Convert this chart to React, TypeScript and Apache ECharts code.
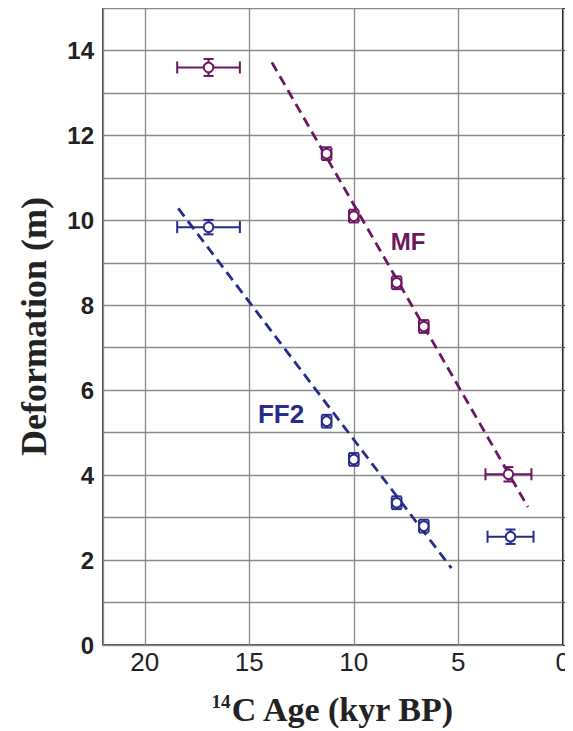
import React, { useEffect, useRef } from "react";
import * as echarts from "echarts";

// [age (kyr BP), deformation (m), age error, deformation error]
const mfPoints = [
  [16.95, 13.6, 1.5, 0.2],
  [11.3, 11.57, 0.23, 0.15],
  [10.0, 10.1, 0.23, 0.15],
  [7.95, 8.53, 0.23, 0.15],
  [6.65, 7.5, 0.23, 0.15],
  [2.6, 4.02, 1.1, 0.17],
];
const ff2Points = [
  [16.95, 9.84, 1.5, 0.17],
  [11.3, 5.27, 0.23, 0.15],
  [10.0, 4.37, 0.23, 0.15],
  [7.95, 3.35, 0.23, 0.15],
  [6.65, 2.8, 0.23, 0.15],
  [2.5, 2.55, 1.1, 0.17],
];
const mfTrend = [
  [13.92, 13.72],
  [1.67, 3.25],
];
const ff2Trend = [
  [18.4, 10.28],
  [5.33, 1.81],
];
const labelTexts = ["MF", "FF2"];
const labelPositions = [
  [7.4, 9.51],
  [13.48, 5.44],
];
const labelSizes = [24, 26];
const xTicks = [20, 15, 10, 5, 0];
const yTicks = [0, 2, 4, 6, 8, 10, 12, 14];

const PURPLE = "#6b1760";
const BLUE = "#262b8c";

function errorSeries(name: string, data: number[][], color: string) {
  return {
    type: "custom",
    name,
    data,
    z: 5,
    renderItem: (params: any, api: any) => {
      const x = api.value(0);
      const y = api.value(1);
      const ex = api.value(2);
      const ey = api.value(3);
      const c = api.coord([x, y]);
      const l = api.coord([x + ex, y]);
      const r = api.coord([x - ex, y]);
      const t = api.coord([x, y + ey]);
      const b = api.coord([x, y - ey]);
      const cap = 6;
      const style = { stroke: color, lineWidth: 2, fill: null };
      const children: any[] = [
        { type: "line", shape: { x1: l[0], y1: c[1], x2: r[0], y2: c[1] }, style },
        { type: "line", shape: { x1: l[0], y1: c[1] - cap, x2: l[0], y2: c[1] + cap }, style },
        { type: "line", shape: { x1: r[0], y1: c[1] - cap, x2: r[0], y2: c[1] + cap }, style },
        { type: "line", shape: { x1: c[0], y1: t[1], x2: c[0], y2: b[1] }, style },
        { type: "line", shape: { x1: c[0] - 5, y1: t[1], x2: c[0] + 5, y2: t[1] }, style },
        { type: "line", shape: { x1: c[0] - 5, y1: b[1], x2: c[0] + 5, y2: b[1] }, style },
        {
          type: "circle",
          shape: { cx: c[0], cy: c[1], r: 4.8 },
          style: { stroke: color, lineWidth: 2, fill: "#fff" },
        },
      ];
      return { type: "group", children };
    },
  };
}

function trendSeries(data: number[][], color: string) {
  return {
    type: "line",
    data,
    symbol: "none",
    z: 4,
    lineStyle: { color, width: 2.8, type: [10, 6] },
  };
}

export default function App() {
  const ref = useRef<HTMLDivElement>(null);
  useEffect(() => {
    if (!ref.current) return;
    const chart = echarts.init(ref.current, null, { renderer: "svg" });
    const labelData = labelTexts.map((t, i) => [labelPositions[i][0], labelPositions[i][1], t]);
    chart.setOption({
      animation: false,
      backgroundColor: "#fff",
      grid: {
        left: 87,
        right: 8,
        top: 0,
        bottom: 86,
        show: true,
        borderColor: "#111",
        borderWidth: 1.5,
        backgroundColor: "transparent",
      },
      xAxis: {
        type: "value",
        min: 0,
        max: 22,
        inverse: true,
        interval: 5,
        axisLine: { show: false },
        axisTick: { show: false },
        splitLine: { show: true, lineStyle: { color: "#8a8a8a", width: 1.3 } },
        axisLabel: {
          color: "#222",
          fontFamily: "Arial, Liberation Sans, sans-serif",
          fontSize: 26,
          margin: 4,
          formatter: (v: number) => (xTicks.includes(v) ? String(v) : ""),
        },
        name: "{sup|14}{b|C Age (kyr BP)}",
        nameLocation: "middle",
        nameGap: 47,
        nameTextStyle: {
          rich: {
            sup: {
              fontFamily: "Liberation Serif, Times New Roman, serif",
              fontWeight: "bold",
              fontSize: 19,
              color: "#222",
              verticalAlign: "top",
              padding: [0, 0, 12, 0],
            },
            b: {
              fontFamily: "Liberation Serif, Times New Roman, serif",
              fontWeight: "bold",
              fontSize: 34,
              color: "#222",
            },
          },
        },
      },
      yAxis: {
        type: "value",
        min: 0,
        max: 15,
        interval: 1,
        axisLine: { show: false },
        axisTick: { show: true, inside: true, length: 4, lineStyle: { color: "#333" } },
        splitLine: { show: true, lineStyle: { color: "#8a8a8a", width: 1.3 } },
        axisLabel: {
          color: "#222",
          fontFamily: "Arial, Liberation Sans, sans-serif",
          fontWeight: "bold",
          fontSize: 24,
          margin: 9,
          formatter: (v: number) => (yTicks.includes(v) ? String(v) : ""),
        },
        name: "Deformation (m)",
        nameLocation: "middle",
        nameGap: 51,
        nameTextStyle: {
          fontFamily: "Liberation Serif, Times New Roman, serif",
          fontWeight: "bold",
          fontSize: 36,
          color: "#222",
        },
      },
      series: [
        trendSeries(mfTrend, PURPLE),
        trendSeries(ff2Trend, BLUE),
        errorSeries("MF", mfPoints, PURPLE),
        errorSeries("FF2", ff2Points, BLUE),
        {
          type: "custom",
          data: labelData,
          z: 6,
          renderItem: (params: any, api: any) => {
            const p = api.coord([api.value(0), api.value(1)]);
            const i = params.dataIndex;
            return {
              type: "text",
              x: p[0],
              y: p[1],
              style: {
                text: labelTexts[i],
                fill: i === 0 ? PURPLE : BLUE,
                font: "bold " + labelSizes[i] + "px Arial, Liberation Sans, sans-serif",
                align: "center",
                verticalAlign: "middle",
              },
            };
          },
        },
      ],
    });
    return () => chart.dispose();
  }, []);
  return <div ref={ref} style={{ width: 565, height: 723 }} />;
}
